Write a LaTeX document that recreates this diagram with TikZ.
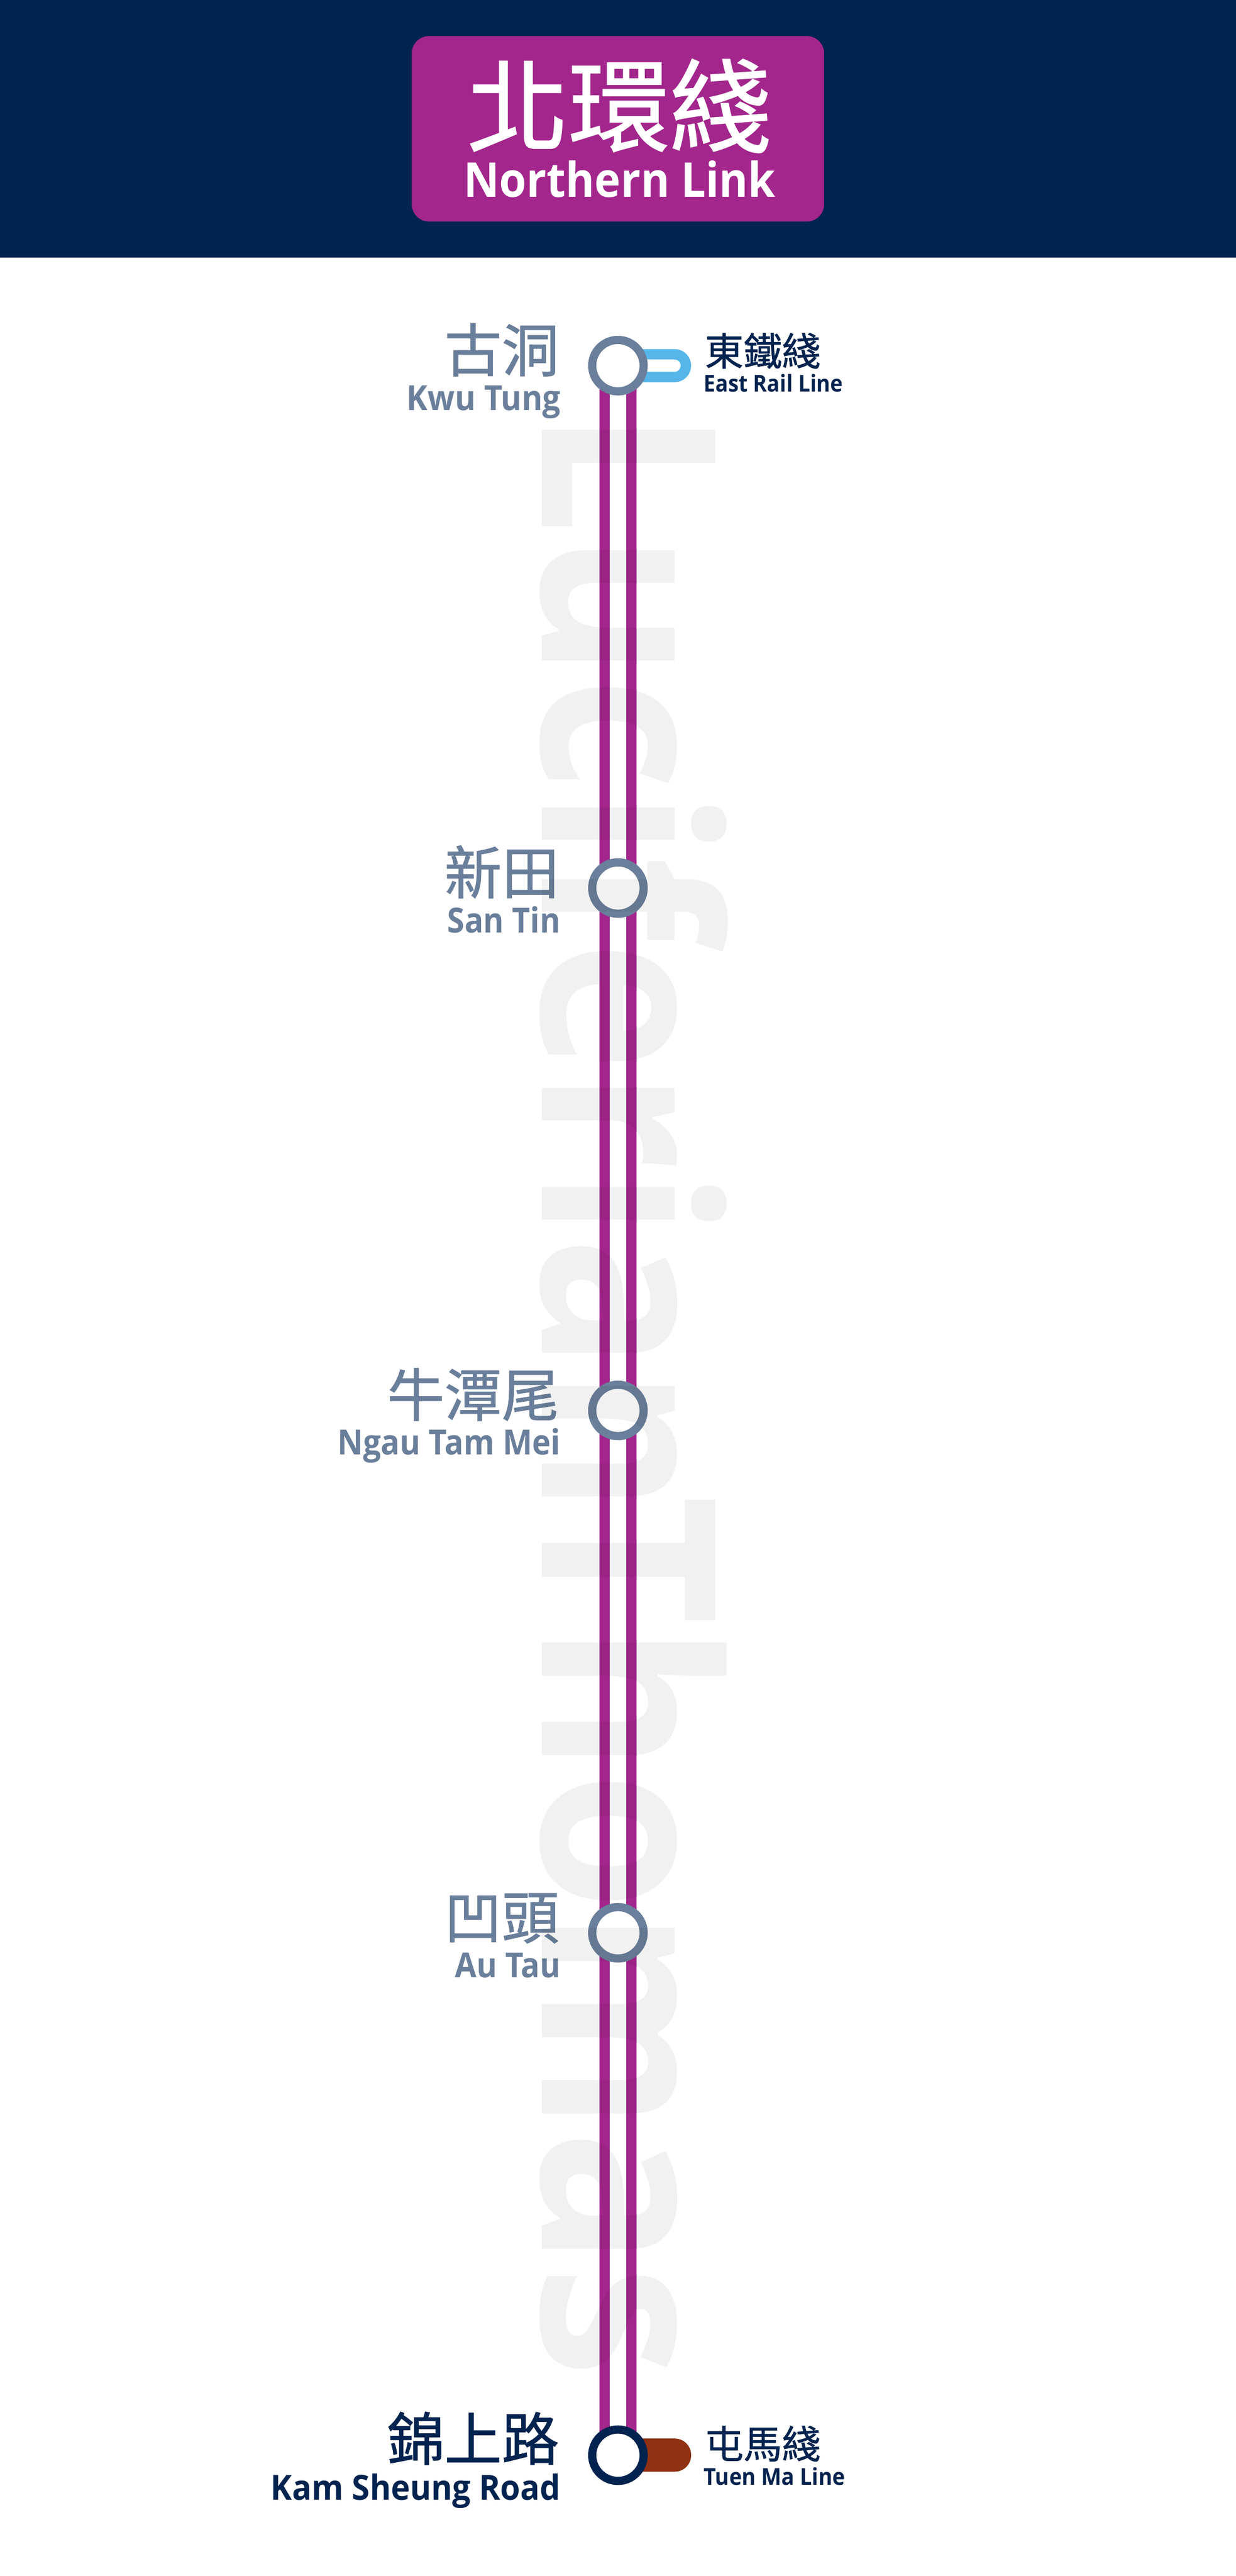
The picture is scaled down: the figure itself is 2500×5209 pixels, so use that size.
\documentclass[tikz,border=0pt]{standalone}
\usepackage{graphicx}
\usepackage{fontspec}
\setmainfont{Open Sans}
\newfontfamily\cjk{Noto Sans CJK TC}[FakeBold=1]
\newfontfamily\wmfont{Open Sans}
\newcommand{\wfit}[2]{\resizebox{#1}{\height}{\bfseries #2}}
\newcommand{\fsz}[1]{\fontsize{#1}{#1}\selectfont}
\definecolor{navy}{HTML}{00234F}
\definecolor{nlpurple}{HTML}{A3268C}
\definecolor{slateblue}{HTML}{6A7F9B}
\definecolor{earblue}{HTML}{56B6E9}
\definecolor{tmlbrown}{HTML}{8F3213}
\tikzset{
  x=1pt,y=1pt,
  lbl/.style={inner sep=0pt,outer sep=0pt,anchor=base east},
  lblr/.style={inner sep=0pt,outer sep=0pt,anchor=base west},
  station/.style={circle,draw=slateblue,fill=white,line width=16.6pt,minimum size=104pt,inner sep=0pt,outer sep=0pt},
  track/.style={draw=nlpurple,line width=21pt},
  watermark/.style={inner sep=0pt,outer sep=0pt,anchor=base west,rotate=-90,text=black,text opacity=0.055},
}
\begin{document}
\begin{tikzpicture}
\useasboundingbox (0,0) rectangle (2500,-5209);
% header
\fill[navy] (0,0) rectangle (2500,-521);
\node[fill=nlpurple,rounded corners=35pt,minimum width=834pt,minimum height=375pt,inner sep=0pt,outer sep=0pt] (pill) at (1250,-260.5) {};
\node[lblr,text=white] (titlezh) at (945,-292) {\cjk\fsz{205}北環綫};
\node[lblr,text=white] (titleen) at (938,-399) {\wfit{631pt}{\fsz{97}Northern Link}};
% station anchors (drawn later, above the tracks)
\coordinate (c1) at (1250,-739.4);
\coordinate (c2) at (1250,-1795.7);
\coordinate (c3) at (1250,-2852);
\coordinate (c4) at (1250,-3908.3);
\coordinate (c5) at (1250,-4964.7);
% interchange stubs
\draw[earblue,line width=21pt,rounded corners=23pt] (1250,-716.4) -- (1387.5,-716.4) -- (1387.5,-762.4) -- (1250,-762.4);
\fill[tmlbrown,rounded corners=33pt] (1250,-4931) -- (1398,-4931) -- (1398,-4998) -- (1250,-4998) -- cycle;
% tracks
\draw[track] ([xshift=-27pt]c1) -- ([xshift=-27pt]c5);
\draw[track] ([xshift=27pt]c1) -- ([xshift=27pt]c5);
% stations
\node[station] (s1) at (c1) {};
\node[station] (s2) at (c2) {};
\node[station] (s3) at (c3) {};
\node[station] (s4) at (c4) {};
\node[station,draw=navy] (s5) at (c5) {};
% labels
\node[lbl,text=slateblue] (n1zh) at (1131,-751.4) {\cjk\fsz{116}古洞};
\node[lbl,text=slateblue] (n1en) at (1134,-830) {\wfit{311pt}{\fsz{70}Kwu Tung}};
\node[lbl,text=slateblue] (n2zh) at (1131,-1807.7) {\cjk\fsz{116}新田};
\node[lbl,text=slateblue] (n2en) at (1134,-1886) {\wfit{229pt}{\fsz{70}San Tin}};
\node[lbl,text=slateblue] (n3zh) at (1131,-2864) {\cjk\fsz{116}牛潭尾};
\node[lbl,text=slateblue] (n3en) at (1134,-2942) {\wfit{451pt}{\fsz{70}Ngau Tam Mei}};
\node[lbl,text=slateblue] (n4zh) at (1131,-3920.3) {\cjk\fsz{116}凹頭};
\node[lbl,text=slateblue] (n4en) at (1134,-3999) {\wfit{214pt}{\fsz{70}Au Tau}};
\node[lbl,text=navy] (n5zh) at (1131,-4975) {\cjk\fsz{116}錦上路};
\node[lbl,text=navy] (n5en) at (1134,-5055) {\wfit{586pt}{\fsz{70}Kam Sheung Road}};
\node[lblr,text=navy] (x1zh) at (1426,-739) {\cjk\fsz{78}東鐵綫};
\node[lblr,text=navy] (x1en) at (1424,-792) {\wfit{281pt}{\fsz{47}East Rail Line}};
\node[lblr,text=navy] (x5zh) at (1426,-4971) {\cjk\fsz{78}屯馬綫};
\node[lblr,text=navy] (x5en) at (1424,-5025) {\wfit{286pt}{\fsz{47}Tuen Ma Line}};
% watermark
\node[watermark] (wm1) at (1097,-830) {\wfit{2230pt}{\wmfont\fsz{492}Luciferian}};
\node[watermark] (wm2) at (1097,-3024) {\wfit{1783pt}{\wmfont\fsz{492}Thomas}};
\end{tikzpicture}
\end{document}
